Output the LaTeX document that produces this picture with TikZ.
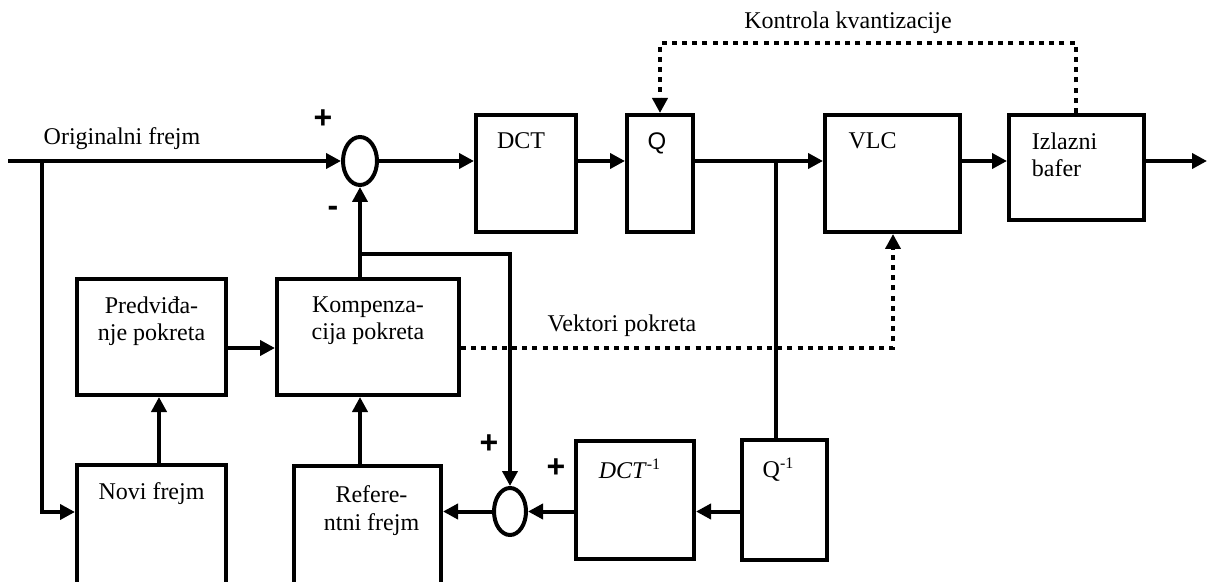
\documentclass[tikz,border=0pt]{standalone}
\usepackage{fontspec}
\setmainfont{Liberation Serif}
\newfontfamily\arialfont{Liberation Sans}
\usetikzlibrary{arrows.meta,shapes.geometric}
\newcommand\fvel{\fontsize{12}{13.6}\selectfont}

\begin{document}
\begin{tikzpicture}[x=0.5pt, y=-0.5pt, line width=2pt, font=\fvel,
    >={Triangle[length=7.5pt,width=7.5pt]},
    blok/.style={draw, rectangle, inner sep=0pt},
    zbir/.style={draw, ellipse, inner sep=0pt},
    natpis/.style={anchor=north, inner sep=0pt, yshift=-9pt, align=center},
    znak/.style={inner sep=0pt, font=\fontsize{16}{18}\selectfont\arialfont\bfseries},
    tacke/.style={dash pattern=on 2.5pt off 2.6pt}]
  \useasboundingbox (0,0) rectangle (1208,582);
  % Blocks
  \node[blok, minimum width=50pt, minimum height=58.5pt, label={[natpis, xshift=-2.5pt]north:DCT}] (dct) at (526,173.5) {};
  \node[blok, minimum width=33pt, minimum height=58.5pt, label={[natpis, xshift=-1.5pt, font=\fvel\arialfont]north:Q}] (q) at (660,173.5) {};
  \node[blok, minimum width=67.5pt, minimum height=58.5pt, label={[natpis, xshift=-10pt]north:VLC}] (vlc) at (892.5,173.5) {};
  \node[blok, minimum width=67.5pt, minimum height=52.5pt, label={[natpis, xshift=-6pt, align=left]north:Izlazni\\bafer}] (buf) at (1076.5,167.5) {};
  \node[blok, minimum width=74.5pt, minimum height=58pt, label={[natpis]north:Predviđa-\\nje pokreta}] (pred) at (151.5,337) {};
  \node[blok, minimum width=91pt, minimum height=58pt, label={[natpis]north:Kompenza-\\cija pokreta}] (komp) at (368,337) {};
  \node[blok, minimum width=74.5pt, minimum height=67.5pt, label={[natpis]north:Novi frejm}] (novi) at (151.5,532.5) {};
  \node[blok, minimum width=73.5pt, minimum height=67pt, label={[natpis, xshift=2pt, yshift=-1pt]north:Refere-\\ntni frejm}] (ref) at (367.5,533) {};
  \node[blok, minimum width=59pt, minimum height=59pt, label={[natpis, xshift=-2.5pt]north:\textit{DCT}\textsuperscript{-1}}] (idct) at (635,500) {};
  \node[blok, minimum width=42.5pt, minimum height=60pt, label={[natpis, xshift=-3pt]north:Q\textsuperscript{-1}}] (iq) at (784.5,500) {};
  % Sums
  \node[zbir, minimum width=17pt, minimum height=24pt] (s1) at (360,161) {};
  \node[zbir, minimum width=16pt, minimum height=23.5pt] (s2) at (510,511.5) {};
  % Branch points
  \coordinate (ulaz) at (8,161);
  \coordinate (grana) at (42,161);
  \coordinate (izlaz) at (1207,161);
  \coordinate (odvod) at (776,161);
  \coordinate (kgore) at (360,254);
  \coordinate (vek) at (893,348);
  \coordinate (kontr) at (1076,43);
  % Edges
  \draw[->] (ulaz) -- (s1.west);
  \draw[->] (grana) |- (novi.west |- 0,512);
  \draw[->] (s1.east) -- (dct.west |- s1);
  \draw[->] (dct.east |- s1) -- (q.west |- s1);
  \draw[->] (q.east |- s1) -- (vlc.west |- s1);
  \draw[->] (vlc.east |- s1) -- (buf.west |- s1);
  \draw[->] (buf.east |- s1) -- (izlaz);
  \draw (odvod) -- (iq.north -| odvod);
  \draw[->] (iq.west |- s2) -- (idct.east |- s2);
  \draw[->] (idct.west |- s2) -- (s2.east);
  \draw[->] (s2.west) -- (ref.east |- s2);
  \draw[->] (ref.north -| s1) -- (komp.south -| s1);
  \draw[->] ([xshift=3.75pt]novi.north) -- ([xshift=3.75pt]pred.south);
  \draw[->] (pred.east |- vek) -- (komp.west |- vek);
  \draw[->] (komp.north -| s1) -- (s1.south);
  \draw[->] (kgore) -| (s2.north);
  % Dotted control lines
  \draw[->, tacke] (komp.east |- vek) -- (vek) -- (vlc.south -| vek);
  \draw[->, tacke] (buf.north -| kontr) -- (kontr) -| (q.north);
  % Labels
  \node[inner sep=0pt] (orig) at (122,139) {Originalni frejm};
  \node[inner sep=0pt] (kontrtxt) at (848,23) {Kontrola kvantizacije};
  \node[inner sep=0pt] (vektxt) at (622,326) {Vektori pokreta};
  \node[znak] (plus1) at (323,119) {+};
  \node[znak] (minus1) at (333,211) {-};
  \node[znak] (plus2) at (489,444) {+};
  \node[znak] (plus3) at (556,468) {+};
\end{tikzpicture}
\end{document}
